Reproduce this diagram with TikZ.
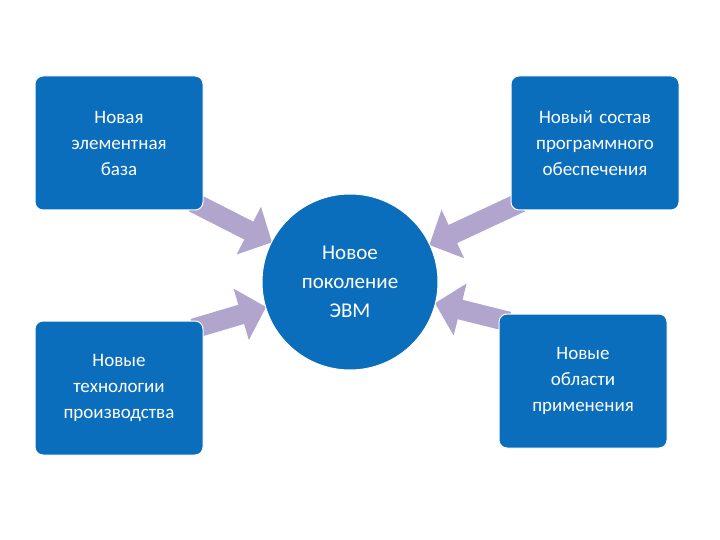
\documentclass[tikz,border=0pt]{standalone}
\usepackage{fontspec}
\setmainfont{Carlito}
\usetikzlibrary{arrows.meta,calc,backgrounds}
\definecolor{bx}{HTML}{0A6EBD}
\definecolor{ar}{HTML}{B1A5CD}
\tikzset{
 box/.style={draw=white,line width=1pt,fill=bx,rounded corners=8pt,minimum width=168pt,minimum height=134pt,text=white,align=center,font=\fontsize{19}{26}\selectfont,text width=160pt},
 circ/.style={circle,fill=bx,draw=white,line width=1pt,minimum size=176pt,text=white,align=center,font=\fontsize{21}{29}\selectfont},
 arr/.style={ar,line width=20pt,-{Triangle[length=26pt,width=52pt]},shorten >=-1pt}
}
\begin{document}
\begin{tikzpicture}[x=1pt,y=-1pt]
\useasboundingbox (0,0) rectangle (720,540);
\node[circ] (c) at (350,282) {Новое\\поколение\\ЭВМ};
\node[box] (tl) at (119,143) {Новая\\элементная\\база\\[24pt]};
\node[box] (tr) at (595,143) {Новый состав\\программного\\обеспечения\\[24pt]};
\node[box] (bl) at (119,388) {Новые\\технологии\\производства};
\node[box] (br) at (583,381) {Новые\\области\\применения\\[8pt]};
\begin{scope}[on background layer]
\draw[arr] ($(tl.south east)!0.12!(tl.center)$) -- (c);
\draw[arr] ($(tr.south west)!0.12!(tr.center)$) -- (c);
\draw[arr] ($(bl.north east)!0.12!(bl.center)$) -- (c);
\draw[arr] ($(br.north west)!0.12!(br.center)$) -- (c);
\end{scope}
\end{tikzpicture}
\end{document}
